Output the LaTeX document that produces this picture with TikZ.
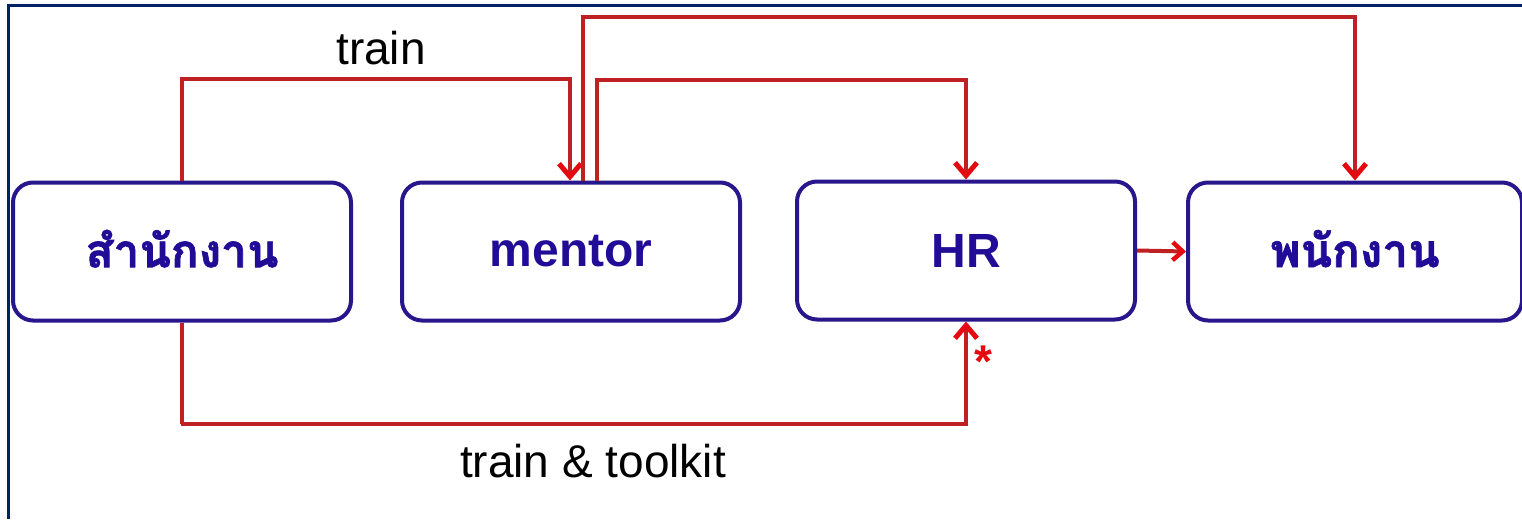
\documentclass[tikz,border=0pt]{standalone}
\usepackage{fontspec}
\setmainfont{Liberation Sans}
\newfontfamily\thaifont[Script=Thai, BoldFeatures={FakeBold=1.5}]{Loma}
\usetikzlibrary{arrows.meta}
\definecolor{boxblue}{RGB}{40,22,140}
\definecolor{txtblue}{RGB}{32,12,150}
\definecolor{linered}{RGB}{190,32,36}
\definecolor{tipred}{RGB}{228,10,16}
\definecolor{navy}{RGB}{0,34,100}
\tikzset{
  box/.style={draw=boxblue, line width=4pt, rounded corners=20pt, minimum height=138pt, inner sep=0pt, text=txtblue, font=\fontsize{48}{52}\selectfont\bfseries},
  thai/.style={font=\thaifont\fontsize{46}{50}\selectfont\bfseries},
  conn/.style={draw=linered, line width=4.5pt, -{Straight Barb[length=13pt,width=22pt,line width=5pt 0,color=tipred]}},
  lbl/.style={font=\fontsize{46}{50}\selectfont, text=black, inner sep=0pt}
}
\begin{document}
\begin{tikzpicture}[x=1pt,y=-1pt]
\useasboundingbox (0,0) rectangle (1522,519);
\draw[navy, line width=3pt] (8,519) -- (8,6) -- (1522,6);
\node[box, thai, minimum width=338pt] (n1) at (182,251.5) {\raisebox{6pt}{สำนักงาน}};
\node[box, minimum width=338pt] (n2) at (571,251.5) {\raisebox{-4pt}{mentor}};
\node[box, minimum width=338pt] (n3) at (966,250.5) {\raisebox{-3pt}{HR}};
\node[box, thai, minimum width=334pt] (n4) at (1355,251.5) {\raisebox{6pt}{พนักงาน}};
\coordinate (t1) at (570,79);
\coordinate (t2) at (583,17);
\coordinate (t3) at (597,80);
\coordinate (t4) at (181,424);
\draw[conn] (n1.north) |- (t1) -- (t1 |- n2.north);
\draw[conn] ([xshift=12pt]n2.north) |- (t2) -| (n4.north);
\draw[conn] ([xshift=26pt]n2.north) |- (t3) -| (n3.north);
\draw[conn] (n1.south) |- (t4) -| (n3.south);
\draw[conn, line width=4pt, -{Straight Barb[length=10pt,width=18pt,line width=4.5pt 0,color=tipred]}] (n3.east) -- (n4.west);
\node[lbl] (l1) at (381,48) {train};
\node[lbl] (l2) at (593,461) {train \& toolkit};
\node[text=tipred, font=\fontsize{46}{48}\selectfont\bfseries, inner sep=0pt] (ast) at (983,362) {*};
\end{tikzpicture}
\end{document}
